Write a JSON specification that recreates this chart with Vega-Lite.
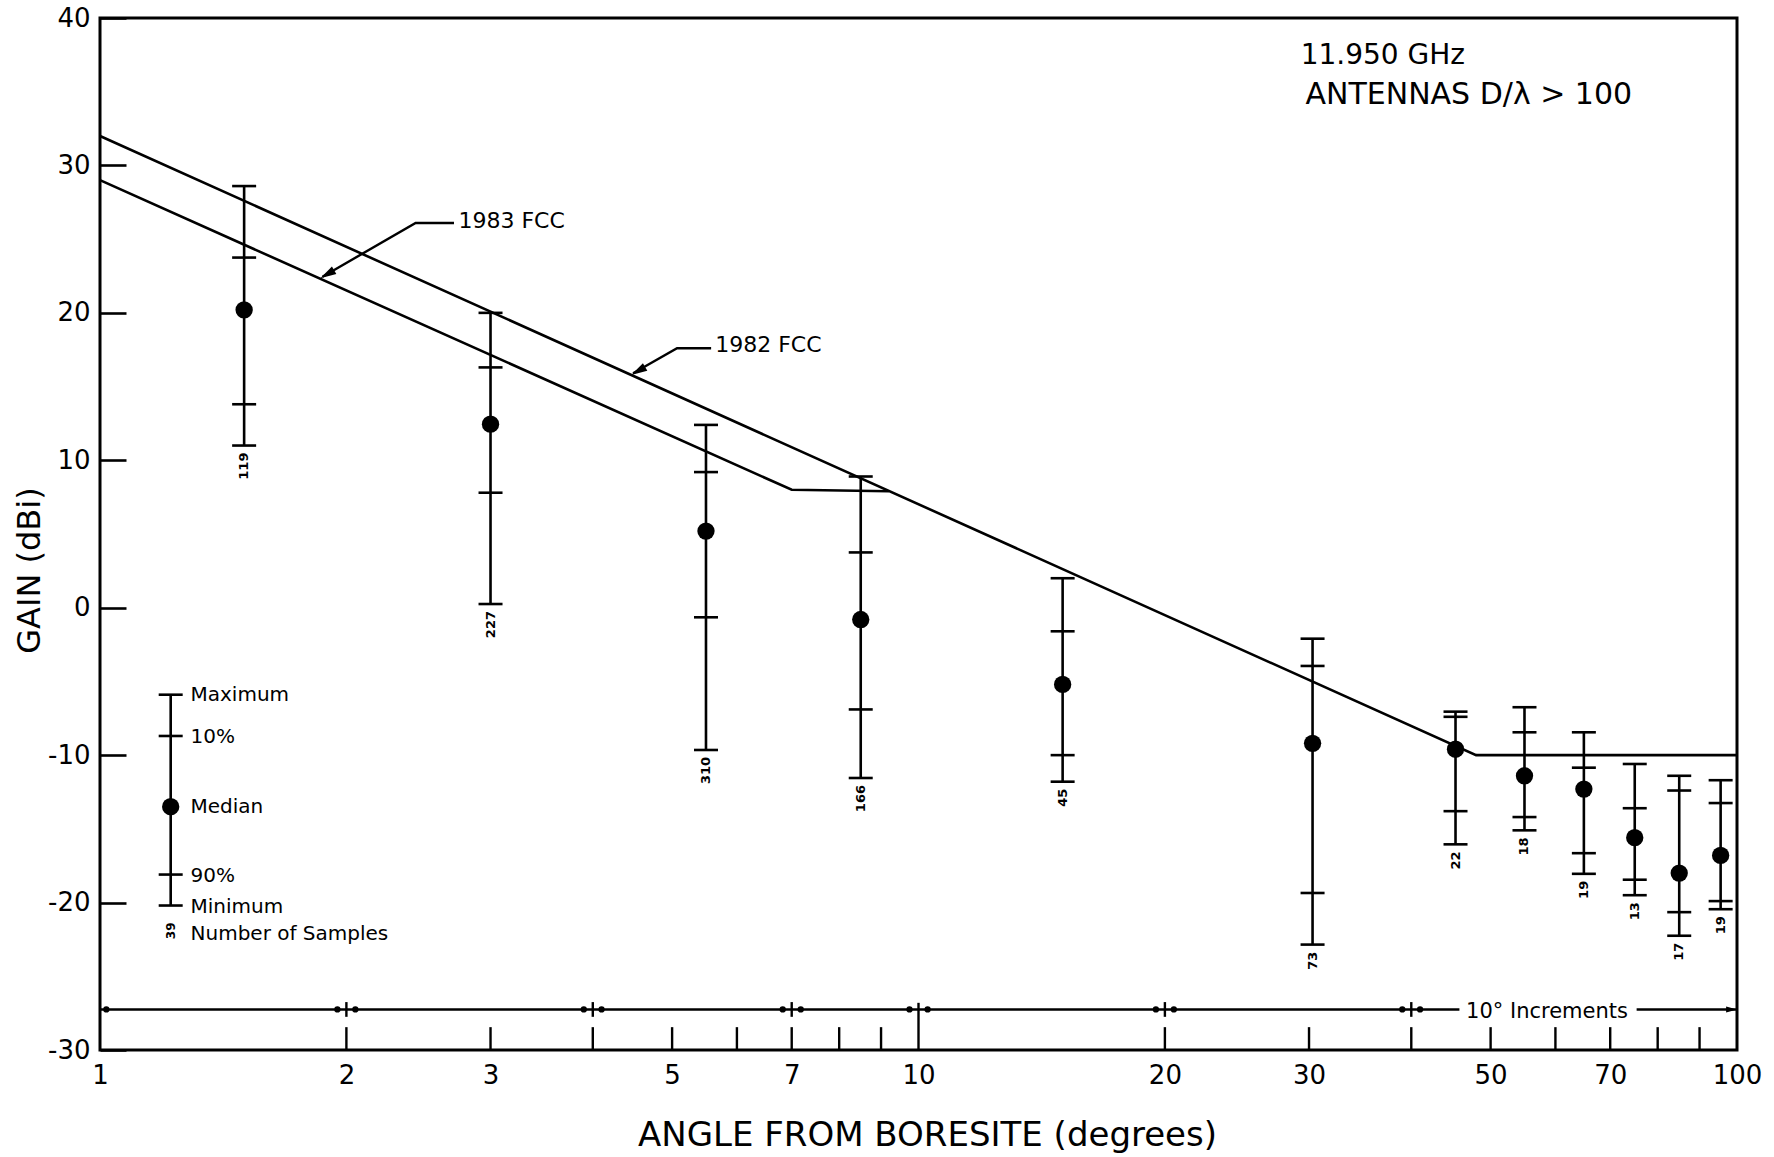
{
  "$schema": "https://vega.github.io/schema/vega-lite/v6.json",
  "width": 1637,
  "height": 1032,
  "autosize": {"type": "none"},
  "padding": {"left": 100, "top": 18, "right": 37, "bottom": 107},
  "background": "white",
  "config": {
    "view": {"stroke": "black", "strokeWidth": 3},
    "font": "DejaVu Sans",
    "axis": {"labelFont": "DejaVu Sans", "titleFont": "DejaVu Sans", "labelColor": "black", "titleColor": "black", "grid": false, "domain": false, "titleFontWeight": "normal"},
    "text": {"color": "black"}
  },
  "datasets": {
    "fcc": [
      {"series": "1982 FCC", "ord": 1, "angle": 1, "gain": 32},
      {"series": "1982 FCC", "ord": 2, "angle": 48, "gain": -10},
      {"series": "1982 FCC", "ord": 3, "angle": 100, "gain": -10},
      {"series": "1983 FCC", "ord": 1, "angle": 1, "gain": 29},
      {"series": "1983 FCC", "ord": 2, "angle": 7, "gain": 8},
      {"series": "1983 FCC", "ord": 3, "angle": 9.2, "gain": 7.9}
    ],
    "bars": [
      {"kind": "data", "angle": 1.5, "max": 28.6, "p10": 23.75, "median": 20.2, "p90": 13.8, "min": 11.0, "n": "119"},
      {"kind": "data", "angle": 3.0, "max": 20.0, "p10": 16.3, "median": 12.45, "p90": 7.8, "min": 0.25, "n": "227"},
      {"kind": "data", "angle": 5.5, "max": 12.4, "p10": 9.2, "median": 5.2, "p90": -0.65, "min": -9.65, "n": "310"},
      {"kind": "data", "angle": 8.5, "max": 8.9, "p10": 3.75, "median": -0.8, "p90": -6.9, "min": -11.55, "n": "166"},
      {"kind": "data", "angle": 15, "max": 2.0, "p10": -1.6, "median": -5.2, "p90": -10.0, "min": -11.8, "n": "45"},
      {"kind": "data", "angle": 30.3, "max": -2.1, "p10": -3.95, "median": -9.2, "p90": -19.35, "min": -22.85, "n": "73"},
      {"kind": "data", "angle": 45.3, "max": -7.05, "p10": -7.4, "median": -9.6, "p90": -13.8, "min": -16.05, "n": "22"},
      {"kind": "data", "angle": 55, "max": -6.75, "p10": -8.45, "median": -11.4, "p90": -14.2, "min": -15.1, "n": "18"},
      {"kind": "data", "angle": 65, "max": -8.45, "p10": -10.85, "median": -12.3, "p90": -16.65, "min": -18.05, "n": "19"},
      {"kind": "data", "angle": 75, "max": -10.6, "p10": -13.6, "median": -15.6, "p90": -18.45, "min": -19.5, "n": "13"},
      {"kind": "data", "angle": 85, "max": -11.4, "p10": -12.4, "median": -18.0, "p90": -20.65, "min": -22.25, "n": "17"},
      {"kind": "data", "angle": 95.5, "max": -11.7, "p10": -13.25, "median": -16.8, "p90": -19.9, "min": -20.45, "n": "19"},
      {"kind": "legend", "angle": 1.22, "max": -5.9, "p10": -8.7, "median": -13.5, "p90": -18.1, "min": -20.2, "n": "39"}
    ],
    "legendtext": [
      {"text": "Maximum", "angle": 1.29, "gain": -5.95},
      {"text": "10%", "angle": 1.29, "gain": -8.75},
      {"text": "Median", "angle": 1.29, "gain": -13.5},
      {"text": "90%", "angle": 1.29, "gain": -18.2},
      {"text": "Minimum", "angle": 1.29, "gain": -20.3},
      {"text": "Number of Samples", "angle": 1.29, "gain": -22.13}
    ],
    "fcclabels": [
      {"text": "1983 FCC", "angle": 2.741, "gain": 26.2},
      {"text": "1982 FCC", "angle": 5.644, "gain": 17.8}
    ],
    "header1": [
      {"text": "11.950 GHz", "angle": 29.3, "gain": 37.4}
    ],
    "header2": [
      {"text": "ANTENNAS  D/λ > 100", "angle": 29.7, "gain": 34.75}
    ],
    "increments": [
      {"text": "10° Increments", "angle": 58.6, "gain": -27.4}
    ],
    "leaders": [
      {"id": "a", "ord": 1, "angle": 2.707, "gain": 26.1},
      {"id": "a", "ord": 2, "angle": 2.43, "gain": 26.1},
      {"id": "a", "ord": 3, "angle": 1.87, "gain": 22.45},
      {"id": "b", "ord": 1, "angle": 5.58, "gain": 17.6},
      {"id": "b", "ord": 2, "angle": 5.07, "gain": 17.6},
      {"id": "b", "ord": 3, "angle": 4.48, "gain": 15.9}
    ],
    "arrowheads": [
      {"angle": 1.895, "gain": 22.62},
      {"angle": 4.545, "gain": 16.06}
    ],
    "endarrow": [
      {"angle": 98.5, "gain": -27.25}
    ],
    "incrseg": [
      {"a1": 1, "a2": 45.8, "gain": -27.25},
      {"a1": 75.4, "a2": 100, "gain": -27.25}
    ],
    "incrdots": [
      {"angle": 1.018, "gain": -27.25},
      {"angle": 1.95, "gain": -27.25},
      {"angle": 2.051, "gain": -27.25},
      {"angle": 3.9, "gain": -27.25},
      {"angle": 4.1, "gain": -27.25},
      {"angle": 6.825, "gain": -27.25},
      {"angle": 7.18, "gain": -27.25},
      {"angle": 9.75, "gain": -27.25},
      {"angle": 10.26, "gain": -27.25},
      {"angle": 19.5, "gain": -27.25},
      {"angle": 20.51, "gain": -27.25},
      {"angle": 39.0, "gain": -27.25},
      {"angle": 41.0, "gain": -27.25}
    ],
    "vticks": [
      {"angle": 2, "y1": -26.75, "y2": -27.75},
      {"angle": 4, "y1": -26.75, "y2": -27.75},
      {"angle": 7, "y1": -26.75, "y2": -27.75},
      {"angle": 20, "y1": -26.75, "y2": -27.75},
      {"angle": 40, "y1": -26.75, "y2": -27.75},
      {"angle": 10, "y1": -26.8, "y2": -30},
      {"angle": 2, "y1": -28.45, "y2": -30},
      {"angle": 3, "y1": -28.45, "y2": -30},
      {"angle": 4, "y1": -28.45, "y2": -30},
      {"angle": 5, "y1": -28.45, "y2": -30},
      {"angle": 6, "y1": -28.45, "y2": -30},
      {"angle": 7, "y1": -28.45, "y2": -30},
      {"angle": 8, "y1": -28.45, "y2": -30},
      {"angle": 9, "y1": -28.45, "y2": -30},
      {"angle": 20, "y1": -28.45, "y2": -30},
      {"angle": 30, "y1": -28.45, "y2": -30},
      {"angle": 40, "y1": -28.45, "y2": -30},
      {"angle": 50, "y1": -28.45, "y2": -30},
      {"angle": 60, "y1": -28.45, "y2": -30},
      {"angle": 70, "y1": -28.45, "y2": -30},
      {"angle": 80, "y1": -28.45, "y2": -30},
      {"angle": 90, "y1": -28.45, "y2": -30}
    ]
  },
  "layer": [
    {
      "data": {"name": "fcc"},
      "mark": {"type": "line", "color": "black", "strokeWidth": 2.6},
      "encoding": {
        "x": {
          "field": "angle", "type": "quantitative",
          "scale": {"type": "log", "domain": [1, 100], "nice": false},
          "axis": {
            "title": "ANGLE FROM BORESITE (degrees)",
            "values": [1, 2, 3, 5, 7, 10, 20, 30, 50, 70, 100],
            "labelExpr": "'' + datum.value",
            "labelOverlap": false,
            "labelFlush": false,
            "ticks": false,
            "labelFontSize": 26,
            "labelPadding": 12,
            "titleFontSize": 34,
            "titleX": 827,
            "titleY": 85,
            "titleAlign": "center",
            "titleBaseline": "middle"
          }
        },
        "y": {
          "field": "gain", "type": "quantitative",
          "scale": {"domain": [-30, 40], "nice": false, "zero": false},
          "axis": {
            "title": "GAIN (dBi)",
            "values": [-30, -20, -10, 0, 10, 20, 30, 40],
            "labelExpr": "datum.value < 0 ? '-' + abs(datum.value) : '' + datum.value",
            "tickSize": -26,
            "tickWidth": 2.6,
            "tickColor": "black",
            "labelPadding": 36,
            "labelFontSize": 26,
            "labelBaseline": "middle",
            "titleFontSize": 32,
            "titleAngle": 270,
            "titleX": -71,
            "titleY": 552,
            "titleAlign": "center",
            "titleBaseline": "middle"
          }
        },
        "detail": {"field": "series"},
        "order": {"field": "ord", "type": "quantitative"}
      }
    },
    {
      "data": {"name": "bars"},
      "mark": {"type": "rule", "color": "black", "strokeWidth": 2.6},
      "encoding": {
        "x": {"field": "angle", "type": "quantitative"},
        "y": {"field": "min", "type": "quantitative"},
        "y2": {"field": "max"}
      }
    },
    {
      "data": {"name": "bars"},
      "transform": [{"fold": ["max", "p10", "p90", "min"], "as": ["k", "v"]}],
      "mark": {"type": "tick", "orient": "horizontal", "color": "black", "size": 24, "thickness": 2.6, "opacity": 1},
      "encoding": {
        "x": {"field": "angle", "type": "quantitative"},
        "y": {"field": "v", "type": "quantitative"}
      }
    },
    {
      "data": {"name": "bars"},
      "mark": {"type": "point", "shape": "circle", "filled": true, "color": "black", "size": 300, "opacity": 1},
      "encoding": {
        "x": {"field": "angle", "type": "quantitative"},
        "y": {"field": "median", "type": "quantitative"}
      }
    },
    {
      "data": {"name": "bars"},
      "transform": [{"filter": "datum.kind == 'data'"}],
      "mark": {"type": "text", "angle": 270, "align": "right", "baseline": "middle", "dx": -7, "font": "DejaVu Sans", "fontWeight": "bold", "fontSize": 13, "color": "black"},
      "encoding": {
        "x": {"field": "angle", "type": "quantitative"},
        "y": {"field": "min", "type": "quantitative"},
        "text": {"field": "n"}
      }
    },
    {
      "data": {"name": "bars"},
      "transform": [{"filter": "datum.kind == 'legend'"}],
      "mark": {"type": "text", "angle": 270, "align": "right", "baseline": "middle", "dx": -17, "font": "DejaVu Sans", "fontWeight": "bold", "fontSize": 12, "color": "black"},
      "encoding": {
        "x": {"field": "angle", "type": "quantitative"},
        "y": {"field": "min", "type": "quantitative"},
        "text": {"field": "n"}
      }
    },
    {
      "data": {"name": "legendtext"},
      "mark": {"type": "text", "align": "left", "baseline": "middle", "font": "DejaVu Sans", "fontSize": 20, "color": "black"},
      "encoding": {
        "x": {"field": "angle", "type": "quantitative"},
        "y": {"field": "gain", "type": "quantitative"},
        "text": {"field": "text"}
      }
    },
    {
      "data": {"name": "fcclabels"},
      "mark": {"type": "text", "align": "left", "baseline": "middle", "font": "DejaVu Sans", "fontSize": 22, "color": "black"},
      "encoding": {
        "x": {"field": "angle", "type": "quantitative"},
        "y": {"field": "gain", "type": "quantitative"},
        "text": {"field": "text"}
      }
    },
    {
      "data": {"name": "header1"},
      "mark": {"type": "text", "align": "left", "baseline": "middle", "font": "DejaVu Sans", "fontSize": 28, "color": "black"},
      "encoding": {
        "x": {"field": "angle", "type": "quantitative"},
        "y": {"field": "gain", "type": "quantitative"},
        "text": {"field": "text"}
      }
    },
    {
      "data": {"name": "header2"},
      "mark": {"type": "text", "align": "left", "baseline": "middle", "font": "DejaVu Sans", "fontSize": 30, "color": "black"},
      "encoding": {
        "x": {"field": "angle", "type": "quantitative"},
        "y": {"field": "gain", "type": "quantitative"},
        "text": {"field": "text"}
      }
    },
    {
      "data": {"name": "increments"},
      "mark": {"type": "text", "align": "center", "baseline": "middle", "font": "DejaVu Sans", "fontSize": 21, "color": "black"},
      "encoding": {
        "x": {"field": "angle", "type": "quantitative"},
        "y": {"field": "gain", "type": "quantitative"},
        "text": {"field": "text"}
      }
    },
    {
      "data": {"name": "leaders"},
      "mark": {"type": "line", "color": "black", "strokeWidth": 2.4},
      "encoding": {
        "x": {"field": "angle", "type": "quantitative"},
        "y": {"field": "gain", "type": "quantitative"},
        "detail": {"field": "id"},
        "order": {"field": "ord", "type": "quantitative"}
      }
    },
    {
      "data": {"name": "arrowheads"},
      "mark": {"type": "point", "shape": "M0,-1L0.55,1L-0.55,1Z", "angle": 240, "filled": true, "color": "black", "size": 256, "opacity": 1},
      "encoding": {
        "x": {"field": "angle", "type": "quantitative"},
        "y": {"field": "gain", "type": "quantitative"}
      }
    },
    {
      "data": {"name": "endarrow"},
      "mark": {"type": "point", "shape": "M0,-1L0.55,1L-0.55,1Z", "angle": 90, "filled": true, "color": "black", "size": 120, "opacity": 1},
      "encoding": {
        "x": {"field": "angle", "type": "quantitative"},
        "y": {"field": "gain", "type": "quantitative"}
      }
    },
    {
      "data": {"name": "incrseg"},
      "mark": {"type": "rule", "color": "black", "strokeWidth": 2.6},
      "encoding": {
        "x": {"field": "a1", "type": "quantitative"},
        "x2": {"field": "a2"},
        "y": {"field": "gain", "type": "quantitative"}
      }
    },
    {
      "data": {"name": "incrdots"},
      "mark": {"type": "point", "shape": "circle", "filled": true, "color": "black", "size": 40, "opacity": 1},
      "encoding": {
        "x": {"field": "angle", "type": "quantitative"},
        "y": {"field": "gain", "type": "quantitative"}
      }
    },
    {
      "data": {"name": "vticks"},
      "mark": {"type": "rule", "color": "black", "strokeWidth": 2.4},
      "encoding": {
        "x": {"field": "angle", "type": "quantitative"},
        "y": {"field": "y1", "type": "quantitative"},
        "y2": {"field": "y2"}
      }
    }
  ]
}
